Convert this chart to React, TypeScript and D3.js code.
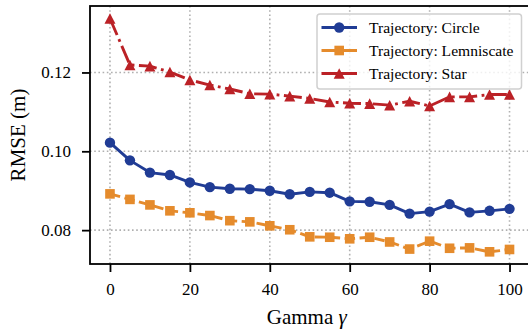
import React, { useEffect, useRef } from 'react';
import * as d3 from 'd3';

// gamma sweep values
const gammas = [0, 5, 10, 15, 20, 25, 30, 35, 40, 45, 50, 55, 60, 65, 70, 75, 80, 85, 90, 95, 100];

const circleRmse = [0.1022, 0.0977, 0.0946, 0.0940, 0.0921, 0.0909, 0.0905, 0.0904, 0.0900, 0.0891, 0.0897,
  0.0895, 0.0873, 0.0872, 0.0864, 0.0842, 0.0847, 0.0866, 0.0845, 0.0849, 0.0854];
const lemniscateRmse = [0.0892, 0.0878, 0.0864, 0.0849, 0.0844, 0.0837, 0.0824, 0.0821, 0.0811, 0.0801, 0.0783,
  0.0782, 0.0778, 0.0782, 0.0770, 0.0752, 0.0772, 0.0754, 0.0755, 0.0745, 0.0751];
const starRmse = [0.1337, 0.1219, 0.1216, 0.1201, 0.1181, 0.1168, 0.1158, 0.1146, 0.1145, 0.1140, 0.1134,
  0.1125, 0.1122, 0.1121, 0.1117, 0.1127, 0.1115, 0.1138, 0.1138, 0.1144, 0.1144];

const xTicks = [0, 20, 40, 60, 80, 100];
const yTicks = [0.08, 0.10, 0.12];

const seriesNames = ['Trajectory: Circle', 'Trajectory: Lemniscate', 'Trajectory: Star'];
const seriesColors = ['#203c95', '#e58b2c', '#bb2126'];

const FONT = '"Liberation Serif", "Times New Roman", serif';

const drawMarker = (sel: any, kind: string, x: number, y: number, color: string) => {
  if (kind === 'circle') {
    sel.append('circle').attr('cx', x).attr('cy', y).attr('r', 5.2).attr('fill', color);
  } else if (kind === 'square') {
    sel.append('rect').attr('x', x - 4.8).attr('y', y - 4.8).attr('width', 9.6).attr('height', 9.6).attr('fill', color);
  } else {
    sel.append('path')
      .attr('d', `M${x},${y - 5.3}L${x + 5.5},${y + 5.3}L${x - 5.5},${y + 5.3}Z`)
      .attr('fill', color);
  }
};

const RmseChart = () => {
  const svgRef = useRef<SVGSVGElement | null>(null);

  useEffect(() => {
    const svg = d3.select(svgRef.current);
    svg.selectAll('*').remove();

    const left = 90, right = 529.5, top = 6, bottom = 264;

    const x = d3.scaleLinear().domain([-5, 105]).range([left, right]);
    const y = d3.scaleLinear().domain([0.10 - (264 - 151.3) / 3942, 0.10 + (151.3 - 6) / 3942]).range([bottom, top]);

    // grid
    const grid = svg.append('g');
    xTicks.forEach(t => {
      grid.append('line')
        .attr('x1', x(t)).attr('x2', x(t)).attr('y1', top).attr('y2', bottom)
        .attr('stroke', '#b0b0b0').attr('stroke-width', 1.6).attr('stroke-dasharray', '1.6 2.6');
    });
    yTicks.forEach(t => {
      grid.append('line')
        .attr('x1', left).attr('x2', right).attr('y1', y(t)).attr('y2', y(t))
        .attr('stroke', '#b0b0b0').attr('stroke-width', 1.6).attr('stroke-dasharray', '1.6 2.6');
    });

    const allSeries = [circleRmse, lemniscateRmse, starRmse];
    const markers = ['circle', 'square', 'triangle'];
    const dashes = [null, '10.5 4.5', '18 4.5 2.8 4.5'];

    const line = d3.line<number>()
      .x((_, i) => x(gammas[i]))
      .y(d => y(d));

    allSeries.forEach((vals, si) => {
      const g = svg.append('g');
      g.append('path')
        .attr('d', line(vals))
        .attr('fill', 'none')
        .attr('stroke', seriesColors[si])
        .attr('stroke-width', 2.9)
        .attr('stroke-linejoin', 'round')
        .attr('stroke-dasharray', dashes[si]);
      vals.forEach((v, i) => drawMarker(g, markers[si], x(gammas[i]), y(v), seriesColors[si]));
    });

    // spines
    svg.append('rect')
      .attr('x', left).attr('y', top).attr('width', right - left).attr('height', bottom - top)
      .attr('fill', 'none').attr('stroke', '#000').attr('stroke-width', 1.8);

    // x axis
    const xAxis = svg.append('g').attr('transform', `translate(0,${bottom})`)
      .call(d3.axisBottom(x).tickValues(xTicks).tickSize(8).tickPadding(11).tickFormat(d3.format('d')));
    xAxis.select('.domain').remove();
    xAxis.attr('font-family', FONT).attr('font-size', 17);
    xAxis.selectAll('line').attr('stroke-width', 1.8);
    xAxis.selectAll('text').attr('fill', '#000');

    const yAxis = svg.append('g').attr('transform', `translate(${left},0)`)
      .call(d3.axisLeft(y).tickValues(yTicks).tickSize(8).tickPadding(11).tickFormat(d3.format('.2f')));
    yAxis.select('.domain').remove();
    yAxis.attr('font-family', FONT).attr('font-size', 17);
    yAxis.selectAll('line').attr('stroke-width', 1.8);
    yAxis.selectAll('text').attr('fill', '#000');

    // axis labels
    const xl = svg.append('text')
      .attr('x', (left + right) / 2 - 3).attr('y', 324)
      .attr('text-anchor', 'middle')
      .attr('font-family', FONT).attr('font-size', 21);
    xl.append('tspan').text('Gamma ');
    xl.append('tspan').attr('font-style', 'italic').text('γ');

    svg.append('text')
      .attr('transform', `translate(18,${(top + bottom) / 2}) rotate(-90)`)
      .attr('text-anchor', 'middle')
      .attr('dy', '0.33em')
      .attr('font-family', FONT).attr('font-size', 21)
      .text('RMSE (m)');

    // legend
    const lg = svg.append('g');
    lg.append('rect')
      .attr('x', 317).attr('y', 14).attr('width', 204.5).attr('height', 75).attr('rx', 3)
      .attr('fill', '#fff').attr('fill-opacity', 0.8)
      .attr('stroke', '#d0d0d0').attr('stroke-width', 1.5);
    seriesNames.forEach((name, i) => {
      const cy = 27.5 + i * 23;
      lg.append('line')
        .attr('x1', 321.5).attr('x2', 357).attr('y1', cy).attr('y2', cy)
        .attr('stroke', seriesColors[i]).attr('stroke-width', 2.9);
      drawMarker(lg, markers[i], 339.2, cy, seriesColors[i]);
      lg.append('text')
        .attr('x', 369).attr('y', cy).attr('dy', '0.35em')
        .attr('font-family', FONT).attr('font-size', 15.6)
        .text(name);
    });
  }, []);

  return <svg ref={svgRef} width={528} height={330} style={{ display: 'block' }} />;
};

export default function App() {
  return (
    <div style={{ position: 'fixed', left: 0, top: 0, width: 528, height: 330, background: '#fff', overflow: 'hidden' }}>
      <RmseChart />
    </div>
  );
}
